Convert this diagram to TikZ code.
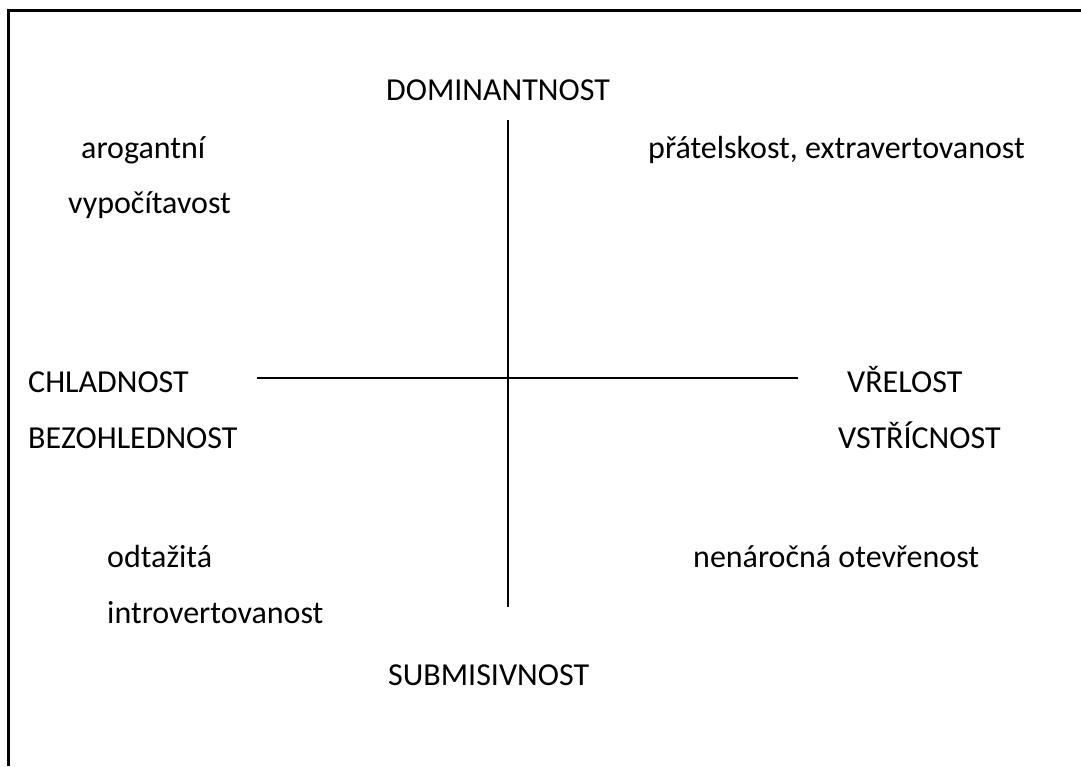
\documentclass[tikz,border=0pt]{standalone}
\usepackage{fontspec}
\setmainfont{Carlito}
\usepackage{tikz}
\tikzset{popis/.style={anchor=base west,inner sep=0pt,font=\fontsize{32}{38}\selectfont}}

\begin{document}
\begin{tikzpicture}[x=1pt,y=-1pt]
	\useasboundingbox (0,0) rectangle (1081,766);
	% ramecek
	\draw [line width=3pt](8,766) -- (8,10) -- (1081,10);
	% osy
	\coordinate (nahore) at (508,120);
	\coordinate (dole) at (508,607);
	\coordinate (vlevo) at (257,378);
	\coordinate (vpravo) at (798,378);
	\draw [line width=1.5pt](nahore) -- (dole);
	\draw [line width=1.5pt](vlevo) -- (vpravo);
	% popisky
	\node [popis](dom) at (386,100) {DOMINANTNOST};
	\node [popis](sub) at (388,685) {SUBMISIVNOST};
	\node [popis](chl) at (28,392) {CHLADNOST};
	\node [popis](bez) at (28,448) {BEZOHLEDNOST};
	\node [popis](vre) at (847,392) {VŘELOST};
	\node [popis](vst) at (838,448) {VSTŘÍCNOST};
	\node [popis](aro) at (81,158) {arogantní};
	\node [popis](vyp) at (68,213) {vypočítavost};
	\node [popis](pra) at (648,158) {přátelskost, extravertovanost};
	\node [popis](odt) at (107,567) {odtažitá};
	\node [popis](intr) at (107,623) {introvertovanost};
	\node [popis](nen) at (693,567) {nenáročná otevřenost};
\end{tikzpicture}
\end{document}
